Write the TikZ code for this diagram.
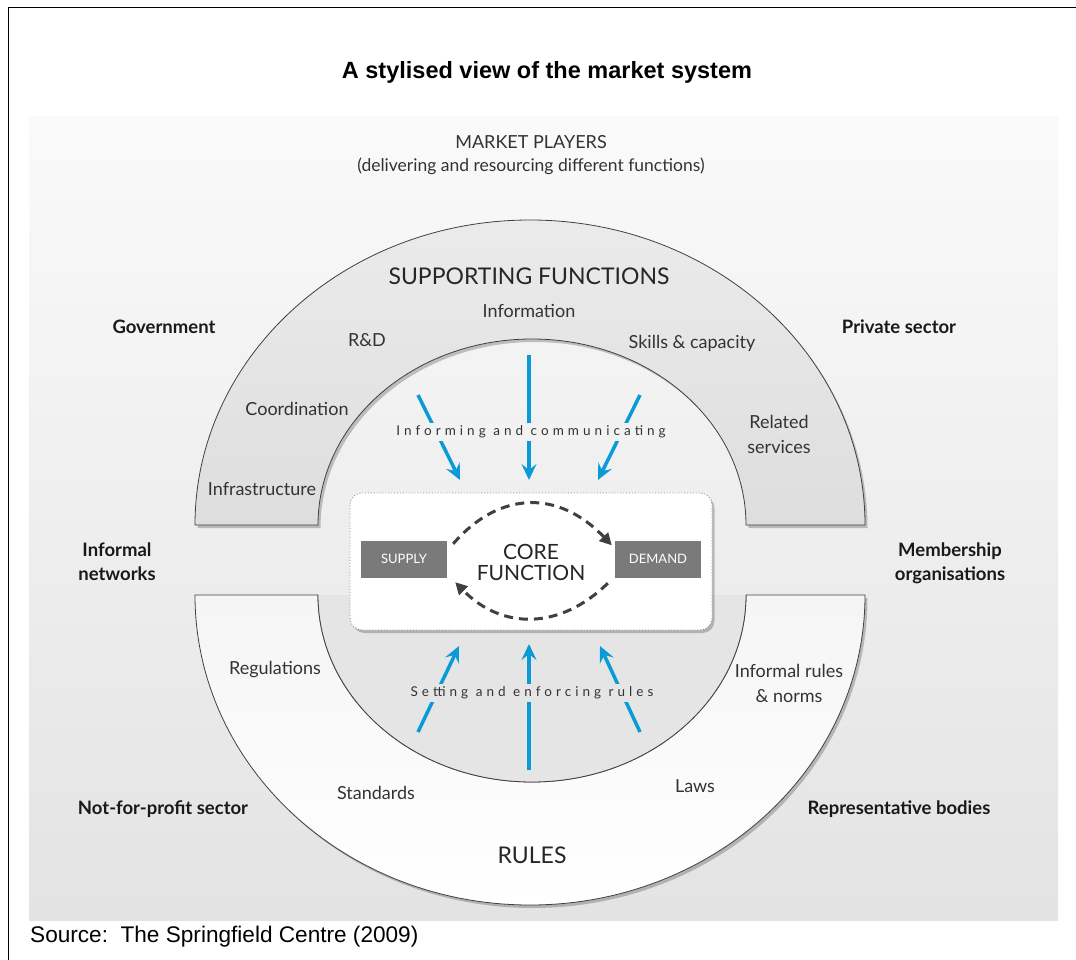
\documentclass[tikz,border=0pt]{standalone}
\usepackage{fontspec}
\setmainfont{Lato}
\newfontfamily\arialfont{Liberation Sans}
\newfontfamily\spacedfont[LetterSpace=30]{Lato}
\usetikzlibrary{arrows.meta}
\definecolor{txt}{HTML}{333333}
\definecolor{bluearr}{RGB}{10,155,215}
\definecolor{darkdash}{HTML}{404040}
\definecolor{boxgray}{HTML}{7A7A7A}
\tikzset{
  lbl/.style={text=txt, font=\fontsize{18}{20}\selectfont, align=center, inner sep=0pt},
  player/.style={text=black!90, font=\bfseries\fontsize{18.5}{24}\selectfont, align=center, inner sep=0pt},
  bigcap/.style={text=black!85, font=\fontsize{23}{24}\selectfont, inner sep=0pt},
  flowlbl/.style={text=txt, font=\spacedfont\fontsize{13.5}{15}\selectfont, inner sep=3pt},
  bluearrow/.style={draw=bluearr, line width=3.5pt, -{Stealth[length=16pt,width=15pt,inset=6pt]}},
  dasharrow/.style={draw=darkdash, line width=3pt, dash pattern=on 9pt off 6pt, -{Triangle[length=12pt,width=12pt]}},
  sdbox/.style={fill=boxgray, text=white, font=\fontsize{13}{15}\selectfont, minimum width=86pt, minimum height=37pt, inner sep=0pt},
  shadowed/.style={preaction={fill=black, opacity=.22, transform canvas={shift={(2.5pt,-3pt)}}}},
}
\begin{document}
\begin{tikzpicture}[x=1pt, y=-1pt]
\useasboundingbox (0,0) rectangle (1076,960);
% outer frame (left and top)
\draw[line width=1.8pt] (8.5,960) -- (8.5,7.5) -- (1076,7.5);
% title
\node[font=\arialfont\bfseries\fontsize{23.5}{26}\selectfont, inner sep=0pt] (title) at (547,72) {A stylised view of the market system};
% background panel
\shade[top color=white!98!black, bottom color=white!89!black] (29,117) rectangle (1058,920);
% market players heading
\node[lbl] (mp) at (531,142) {MARKET PLAYERS};
\node[lbl, font=\fontsize{17.5}{20}\selectfont] (mpsub) at (531,166) {(delivering and resourcing different functions)};
% top arch: supporting functions
\shade[shadowed, top color=white!92!black, bottom color=white!87!black, draw=black!75, line width=0.8pt]
  (195,525) arc[start angle=180, end angle=0, x radius=335pt, y radius=305pt]
  -- (746,525) arc[start angle=0, end angle=180, x radius=214pt, y radius=186pt] -- cycle;
% bottom arch: rules
\shade[shadowed, top color=white!96!black, bottom color=white, draw=black!75, line width=0.8pt]
  (195,595) arc[start angle=180, end angle=360, x radius=335pt, y radius=310pt]
  -- (746,595) arc[start angle=0, end angle=-180, x radius=214pt, y radius=187pt] -- cycle;
% gray interior of rules arch
\fill[white!90!black] (318,595) arc[start angle=180, end angle=360, x radius=214pt, y radius=187pt] -- cycle;
\draw[black!75, line width=0.8pt] (318,595) arc[start angle=180, end angle=360, x radius=214pt, y radius=187pt];
% arch titles and items
\node[bigcap] (sf) at (529,276) {SUPPORTING FUNCTIONS};
\node[lbl] (info) at (529,311) {Information};
\node[lbl] (rd) at (367,340) {R\&D};
\node[lbl] (skills) at (692,343) {Skills \& capacity};
\node[lbl] (coord) at (297,409) {Coordination};
\node[lbl, font=\fontsize{18}{25}\selectfont] (related) at (779,434) {Related\\services};
\node[lbl] (infra) at (262,489) {Infrastructure};
\node[bigcap] (rules) at (532,855) {RULES};
\node[lbl] (regs) at (275,670) {Regulations};
\node[lbl, font=\fontsize{18}{25}\selectfont] (informal) at (789,683) {Informal rules\\\& norms};
\node[lbl] (standards) at (376,793) {Standards};
\node[lbl] (laws) at (695,786) {Laws};
% market players
\node[player] (gov) at (164,327) {Government};
\node[player] (priv) at (899,327) {Private sector};
\node[player] (infnet) at (117,562) {Informal\\networks};
\node[player] (member) at (950,563) {Membership\\organisations};
\node[player] (npo) at (163,809) {Not-for-profit sector};
\node[player] (repr) at (899,809) {Representative bodies};
% blue arrows: informing and communicating
\coordinate (i1s) at (418,395); \coordinate (i1e) at (460,480);
\coordinate (i2s) at (529,355); \coordinate (i2e) at (529,480);
\coordinate (i3s) at (640,395); \coordinate (i3e) at (598,480);
\draw[bluearrow] (i1s) -- (i1e);
\draw[bluearrow] (i2s) -- (i2e);
\draw[bluearrow] (i3s) -- (i3e);
\node[flowlbl, fill=white!95!black] (inform) at (531,432) {Informing and communicating};
% blue arrows: setting and enforcing rules
\coordinate (r1s) at (418,732); \coordinate (r1e) at (459,646);
\coordinate (r2s) at (529,770); \coordinate (r2e) at (529,644);
\coordinate (r3s) at (640,732); \coordinate (r3e) at (600,646);
\draw[bluearrow] (r1s) -- (r1e);
\draw[bluearrow] (r2s) -- (r2e);
\draw[bluearrow] (r3s) -- (r3e);
\node[flowlbl, fill=white!90!black] (setting) at (532,693) {Setting and enforcing rules};
% core function box
\draw[shadowed, fill=white, draw=black!45, dotted, line width=0.9pt, rounded corners=12pt] (350,493) rectangle (712,630);
\node[sdbox] (supply) at (404,559) {SUPPLY};
\node[sdbox] (demand) at (658,559) {DEMAND};
\node[text=black!85, font=\fontsize{21}{21}\selectfont, align=center, inner sep=0pt] (core) at (531,562) {CORE\\FUNCTION};
\draw[dasharrow] ([shift={(6,3.5)}]supply.north east) .. controls (500,490) and (559,490) .. ([shift={(-3,5)}]demand.north west);
\draw[dasharrow] ([shift={(-7,5.5)}]demand.south west) .. controls (560,630) and (502,630) .. ([shift={(8,4.5)}]supply.south east);
% source
\node[font=\arialfont\fontsize{22.6}{26}\selectfont, anchor=west, inner sep=0pt] (source) at (30,937) {Source:\ \ The Springfield Centre (2009)};
\end{tikzpicture}
\end{document}
